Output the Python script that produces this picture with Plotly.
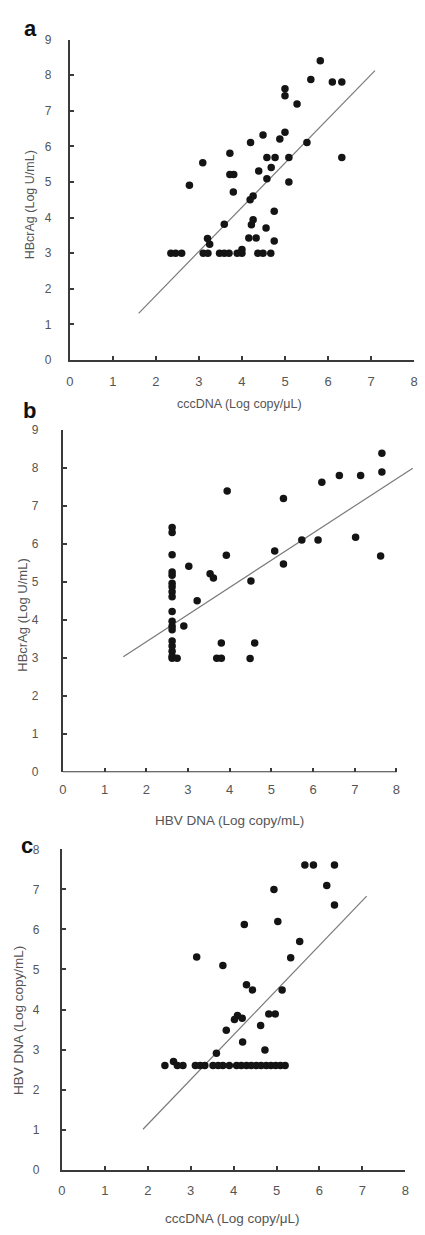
import plotly.graph_objects as go

# ---------------- data ----------------
# Panel a: cccDNA (x) vs HBcrAg (y)
a_x = [5.82, 5.60, 6.10, 6.32, 5.00, 5.00, 5.28, 4.49, 5.00, 4.88, 4.20, 5.51,
       3.72, 3.09, 4.58, 4.77, 5.09, 6.32, 4.68, 4.39, 3.72, 3.81, 4.58, 5.09,
       2.78, 3.80, 4.26, 4.19, 4.75, 3.59, 4.26, 4.22, 4.56, 3.20, 3.25, 4.16,
       4.33, 4.75,
       2.35, 2.46, 2.60, 3.10, 3.21, 3.48, 3.59, 3.70, 3.89, 4.00, 4.00, 4.37,
       4.49, 4.67]
a_y = [8.41, 7.88, 7.81, 7.81, 7.62, 7.42, 7.19, 6.32, 6.40, 6.21, 6.11, 6.11,
       5.81, 5.54, 5.69, 5.69, 5.69, 5.69, 5.41, 5.31, 5.21, 5.21, 5.09, 5.00,
       4.91, 4.72, 4.61, 4.50, 4.18, 3.81, 3.94, 3.80, 3.71, 3.41, 3.25, 3.43,
       3.43, 3.34,
       3.0, 3.0, 3.0, 3.0, 3.0, 3.0, 3.0, 3.0, 3.0, 3.0, 3.1, 3.0,
       3.0, 3.0]
a_fit_x = [1.60, 7.09]
a_fit_y = [1.31, 8.13]

# Panel b: HBV DNA (x) vs HBcrAg (y)
b_x = [7.65, 7.65, 6.63, 7.14, 6.21, 3.94, 5.29, 5.73, 6.12, 7.02, 3.92, 7.62,
       5.08, 5.29, 3.02, 3.53, 3.61, 4.51, 3.22, 2.90, 3.80, 3.69, 3.80, 4.60,
       4.49,
       2.62, 2.62, 2.62, 2.62, 2.62, 2.62, 2.62, 2.62, 2.62, 2.62, 2.62, 2.62,
       2.62, 2.62, 2.62, 2.62, 2.62, 2.62, 2.74]
b_y = [8.39, 7.90, 7.81, 7.81, 7.63, 7.40, 7.20, 6.11, 6.11, 6.18, 5.71, 5.69,
       5.82, 5.48, 5.42, 5.22, 5.11, 5.03, 4.51, 3.85, 3.40, 3.00, 3.00, 3.40,
       2.99,
       6.44, 6.31, 5.72, 5.27, 5.18, 4.97, 4.88, 4.75, 4.62, 4.23, 3.97, 3.84,
       3.75, 3.45, 3.32, 3.18, 3.05, 3.00, 3.00]
b_fit_x = [1.45, 8.39]
b_fit_y = [3.04, 8.00]

# Panel c: cccDNA (x) vs HBV DNA (y)
c_x = [5.66, 5.86, 6.35, 6.17, 4.94, 6.35, 4.25, 5.03, 5.54, 5.33, 3.14, 3.75,
       4.30, 4.44, 5.13, 4.02, 4.09, 4.20, 3.83, 4.82, 4.97, 4.63, 4.21, 3.60,
       4.73,
       2.40, 2.60, 2.69, 2.82, 3.11, 3.22, 3.33, 3.52, 3.64, 3.75, 3.90, 4.07,
       4.18, 4.30, 4.41, 4.53, 4.64, 4.76, 4.87, 4.98, 5.09, 5.20]
c_y = [7.61, 7.61, 7.61, 7.10, 7.00, 6.61, 6.12, 6.20, 5.70, 5.29, 5.31, 5.10,
       4.62, 4.49, 4.49, 3.75, 3.85, 3.78, 3.48, 3.89, 3.89, 3.60, 3.19, 2.91,
       2.99,
       2.6, 2.7, 2.6, 2.6, 2.6, 2.6, 2.6, 2.6, 2.6, 2.6, 2.6, 2.6,
       2.6, 2.6, 2.6, 2.6, 2.6, 2.6, 2.6, 2.6, 2.6, 2.6]
c_fit_x = [1.89, 7.10]
c_fit_y = [1.01, 6.83]

x_ticks = [0, 1, 2, 3, 4, 5, 6, 7, 8]
y_ticks_ab = [0, 1, 2, 3, 4, 5, 6, 7, 8, 9]
y_ticks_c = [0, 1, 2, 3, 4, 5, 6, 7, 8]

panel_labels = ["a", "b", "c"]
title_ccc = "cccDNA (Log copy/μL)"
title_hbcrag = "HBcrAg (Log U/mL)"
title_hbv = "HBV DNA (Log copy/mL)"

# ---------------- figure ----------------
W, H = 425, 1235
FONT = "Liberation Sans, Arial, sans-serif"
TXT = "#555555"
AX = "#3a3a3a"
DOT = "#141414"
FIT = "#7a7a7a"

fig = go.Figure()

panels = [
    (a_x, a_y, a_fit_x, a_fit_y, "x", "y"),
    (b_x, b_y, b_fit_x, b_fit_y, "x2", "y2"),
    (c_x, c_y, c_fit_x, c_fit_y, "x3", "y3"),
]
for px_, py_, fx, fy, xa, ya in panels:
    fig.add_trace(go.Scatter(x=fx, y=fy, mode="lines", xaxis=xa, yaxis=ya,
                             line=dict(color=FIT, width=1.2), showlegend=False,
                             hoverinfo="skip"))
    fig.add_trace(go.Scatter(x=px_, y=py_, mode="markers", xaxis=xa, yaxis=ya,
                             marker=dict(color=DOT, size=7.5), showlegend=False))


def px_dom(p0, p1):
    return [p0 / W, p1 / W]


def py_dom(top, bottom):
    return [(H - bottom) / H, (H - top) / H]


common_x = dict(showgrid=False, zeroline=False, ticks="inside", ticklen=4,
                tickwidth=1.5, tickcolor=AX, linecolor=AX, linewidth=2,
                tickvals=x_ticks, tickfont=dict(size=13, color=TXT, family=FONT),
                ticklabelstandoff=8)
common_y = dict(showgrid=False, zeroline=False, ticks="inside", ticklen=4,
                tickwidth=1.5, tickcolor=AX, linecolor=AX, linewidth=2,
                showline=True, tickfont=dict(size=12, color=TXT, family=FONT))

fig.update_layout(
    width=W, height=H,
    margin=dict(l=0, r=0, t=0, b=0),
    paper_bgcolor="white", plot_bgcolor="white",
    xaxis=dict(common_x, domain=px_dom(67, 418), range=[0, 8], showline=True,
               anchor="y"),
    yaxis=dict(common_y, domain=py_dom(33, 357), range=[0, 9], anchor="x",
               tickvals=y_ticks_ab, ticklabelstandoff=14),
    xaxis2=dict(common_x, domain=px_dom(60, 60 + 8.45 * 42.5), range=[0, 8.45],
                showline=False, anchor="y2"),
    yaxis2=dict(common_y, domain=py_dom(428, 774), range=[0, 9], anchor="x2",
                tickvals=y_ticks_ab, ticklabelstandoff=20),
    xaxis3=dict(common_x, domain=px_dom(59, 409), range=[0, 8], showline=True,
                anchor="y3"),
    yaxis3=dict(common_y, domain=py_dom(852, 1176), range=[0, 8], anchor="x3",
                tickvals=y_ticks_c, ticklabelstandoff=18),
)

# x-axis line of panel b stops at 8 while the fit line runs past it
fig.add_shape(type="line", xref="x2", yref="y2", x0=0, x1=8, y0=0, y1=0,
              line=dict(color=AX, width=2))

# axis titles and panel letters (paper pixel positions)
def ann(text, xp, yp, size, angle=0, bold=False, color=TXT):
    fig.add_annotation(text=("<b>%s</b>" % text) if bold else text,
                       x=xp / W, y=(H - yp) / H, xref="paper", yref="paper",
                       showarrow=False, textangle=angle,
                       font=dict(size=size, color=color, family=FONT),
                       xanchor="center", yanchor="middle")

ann(title_ccc, 240, 402, 12.5)
ann(title_hbcrag, 26, 200, 12.5, angle=-90)
ann(title_hbv, 230, 823, 13.5)
ann(title_hbcrag, 18, 615, 13, angle=-90)
ann(title_ccc, 233, 1225, 13.5)
ann(title_hbv, 15, 1025, 13.5, angle=-90)

ann(panel_labels[0], 27, 22, 22, bold=True, color="#111111")
ann(panel_labels[1], 26, 408, 22, bold=True, color="#111111")
ann(panel_labels[2], 23, 848, 22, bold=True, color="#111111")

fig.write_html(
    "out.html",
    config={"displayModeBar": False},
    post_script="document.body.style.margin='0';document.body.style.padding='0';"
                "document.body.style.overflow='hidden';",
)
